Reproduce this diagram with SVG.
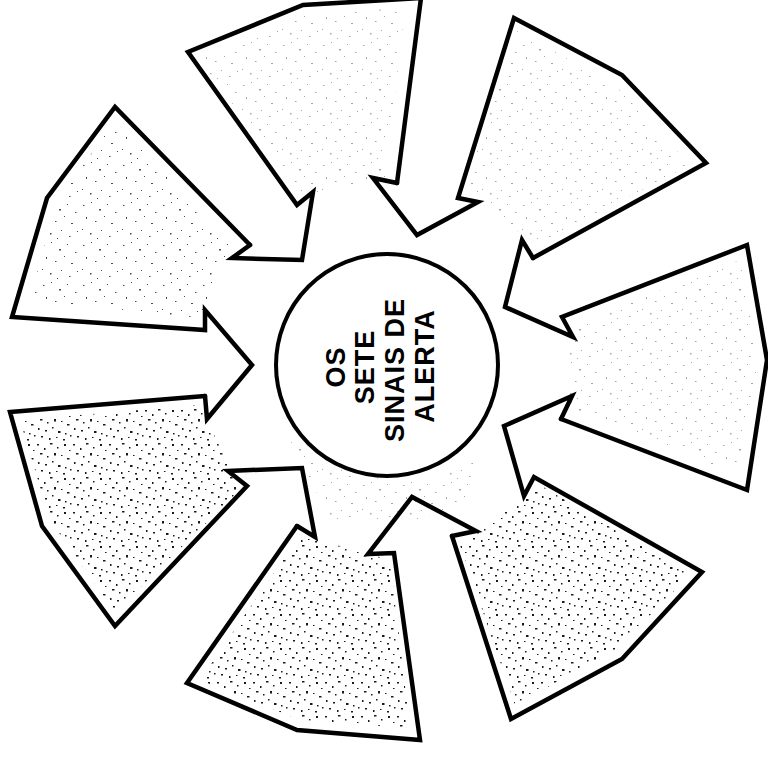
<svg xmlns="http://www.w3.org/2000/svg" width="768" height="758" viewBox="0 0 768 758">
<style>
.o{fill:none;stroke:#000;stroke-width:4.5;stroke-linejoin:miter;stroke-miterlimit:10;stroke-linecap:round}
.t{font-family:"Liberation Sans",Arial,sans-serif;font-weight:bold;font-size:27px;letter-spacing:1px;fill:#000}
.s1{fill:url(#sp);opacity:0.35;stroke:none}
.s2{fill:url(#sp);opacity:0.7;stroke:none}
.s3{fill:url(#sd);opacity:0.9;stroke:none}
</style>
<defs>
<pattern id="sp" width="40" height="40" patternUnits="userSpaceOnUse">
<g fill="#000">
<rect x="3" y="5" width="1.5" height="1"/><rect x="11" y="2" width="1" height="1"/><rect x="19" y="9" width="2" height="1.5"/><rect x="27" y="4" width="1" height="1"/><rect x="35" y="12" width="1.5" height="1"/><rect x="6" y="17" width="1" height="2"/><rect x="15" y="21" width="1.5" height="1"/><rect x="24" y="16" width="1" height="1"/><rect x="31" y="23" width="2" height="1"/><rect x="2" y="29" width="1" height="1"/><rect x="10" y="33" width="1.5" height="1.5"/><rect x="21" y="30" width="1" height="1"/><rect x="29" y="36" width="1.5" height="1"/><rect x="37" y="31" width="1" height="1"/><rect x="17" y="38" width="1" height="1"/>
</g>
</pattern>
<pattern id="sd" width="36" height="34" patternUnits="userSpaceOnUse">
<g fill="#000">
<rect x="1" y="2" width="2" height="1.5"/><rect x="8" y="6" width="1.5" height="2"/><rect x="14" y="1" width="2.5" height="1.5"/><rect x="21" y="5" width="1.5" height="1.5"/><rect x="28" y="2" width="2" height="2"/><rect x="33" y="8" width="1.5" height="1"/><rect x="4" y="11" width="2.5" height="1.5"/><rect x="11" y="14" width="1.5" height="1.5"/><rect x="18" y="11" width="2" height="2.5"/><rect x="25" y="13" width="1.5" height="1"/><rect x="31" y="16" width="2.5" height="1.5"/><rect x="2" y="20" width="1.5" height="2"/><rect x="9" y="22" width="2" height="1.5"/><rect x="16" y="19" width="1.5" height="1.5"/><rect x="22" y="23" width="2.5" height="2"/><rect x="29" y="25" width="1.5" height="1.5"/><rect x="5" y="28" width="2" height="1.5"/><rect x="13" y="30" width="1.5" height="2"/><rect x="20" y="29" width="1.5" height="1"/><rect x="27" y="31" width="2" height="1.5"/><rect x="34" y="27" width="1.5" height="1.5"/>
</g>
</pattern>
</defs>
<rect width="768" height="758" fill="#fff"/>
<g id="stipple">
<polygon class="s2" points="30,300 55,205 115,120 230,245 200,318"/>
<polygon class="s1" points="200,60 300,15 405,8 385,180 300,195"/>
<polygon class="s1" points="515,30 615,85 690,165 535,245 465,190"/>
<polygon class="s1" points="740,260 758,360 740,475 570,410 570,325"/>
<polygon class="s3" points="540,485 690,575 615,650 515,705 460,545"/>
<polygon class="s3" points="300,535 390,560 410,728 300,720 200,680"/>
<polygon class="s3" points="20,420 200,405 240,490 115,612 50,520"/>
<polygon class="s1" points="290,440 360,478 430,480 480,460 470,500 420,520 330,520"/>
</g>
<g id="connectors"></g>
<g id="arrow-top" class="node">
<polyline class="o" points="250,245 232,258 302,260 313,192 297,205 188,52 303,5 421,-2 397,183"/>
</g>
<g id="arrow-top-right" class="node">
<polyline class="o" points="397,183 373,178 417,235 478,202 458,198 514,18 622,75 706,163 533,258"/>
</g>
<g id="arrow-right" class="node">
<polyline class="o" points="533,258 522,240 505,307 573,337 562,317 747,245 767,360 747,490 561,419"/>
</g>
<g id="arrow-bottom-right" class="node">
<polyline class="o" points="561,419 572,396 504,426 524,496 534,477 702,572 622,659 511,719 452,536"/>
</g>
<g id="arrow-bottom" class="node">
<polyline class="o" points="452,536 476,531 412,497 368,554 394,553 420,740 297,730 187,683 297,526"/>
</g>
<g id="arrow-bottom-left" class="node">
<polyline class="o" points="297,526 315,537 302,468 228,471 247,486 115,626 42,526 10,412 205,396"/>
</g>
<g id="arrow-left" class="node">
<polyline class="o" points="205,396 207,419 252,365 205,310 205,330 12,317 47,198 115,107 250,245"/>
</g>
<g id="center" class="node">
<circle cx="387" cy="365" r="111" fill="#fff" stroke="#000" stroke-width="4"/>
<text class="t" text-anchor="middle" transform="translate(345,367) rotate(-90)">OS</text>
<text class="t" text-anchor="middle" transform="translate(374,367) rotate(-90)">SETE</text>
<text class="t" text-anchor="middle" transform="translate(404,370) rotate(-90)">SINAIS DE</text>
<text class="t" text-anchor="middle" transform="translate(434,366) rotate(-90)">ALERTA</text>
</g>
</svg>
